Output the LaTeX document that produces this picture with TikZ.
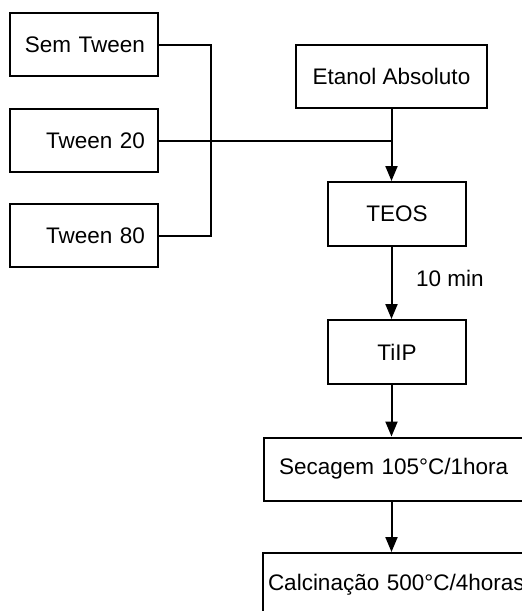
\documentclass[tikz,border=0pt]{standalone}
\usepackage{fontspec}
\setmainfont{Liberation Sans}
\usetikzlibrary{arrows.meta}
\tikzstyle{flow}=[x=0.5pt, y=-0.5pt, line width=1pt, font=\fontsize{11.25}{13}\selectfont]
\tikzstyle{box}=[draw, rectangle, inner sep=0pt, minimum height=31.5pt]
\tikzstyle{tween}=[box, inner xsep=6.5pt, text width=61pt, align=right]
\tikzstyle{etapa}=[box, minimum width=69pt, minimum height=32pt]
\tikzstyle{edge}=[-{Triangle[length=7.5pt, width=6pt]}]
\tikzstyle{link}=[-]
\tikzstyle{edgeLabel}=[inner sep=0pt]
\begin{document}
\begin{tikzpicture}[flow]
	\useasboundingbox (0,0) rectangle (522,611);
	\clip (0,0) rectangle (522,611);
	%% surfactantes
	\draw (84,44.5) node[tween] (sem) {Sem Tween};
	\draw (84,140.5) node[tween] (t20) {Tween 20};
	\draw (84,235.5) node[tween] (t80) {Tween 80};
	\coordinate (bus) at (211,0);
	%%
	\draw (391.5,76.5) node[box, minimum width=95.5pt] (etanol) {Etanol Absoluto};
	\draw (397,214) node[etapa] (teos) {TEOS};
	\draw (397,352) node[etapa] (tiip) {TiIP};
	\draw (398,469) node[box, inner xsep=7.5pt, text width=119pt, align=left] (secagem) {Secagem 105°C/1hora};
	\draw (403,584.5) node[box, inner xsep=2.5pt, text width=135pt, align=left] (calc) {Calcinação 500°C/4horas};
	%%%%%%
	\draw[link] (sem.east) -- (sem.east -| bus) -- (t80.east -| bus) -- (t80.east);
	\draw[link] (t20.east) -- (t20.east -| etanol.south);
	%%
	\draw[edge] (etanol.south) -- (etanol.south |- teos.north);
	\draw[edge] (etanol.south |- teos.south) -- (etanol.south |- tiip.north) node[edgeLabel] at (450,278) {10 min};
	\draw[edge] (etanol.south |- tiip.south) -- (etanol.south |- secagem.north);
	\draw[edge] (etanol.south |- secagem.south) -- (etanol.south |- calc.north);
\end{tikzpicture}
\end{document}
